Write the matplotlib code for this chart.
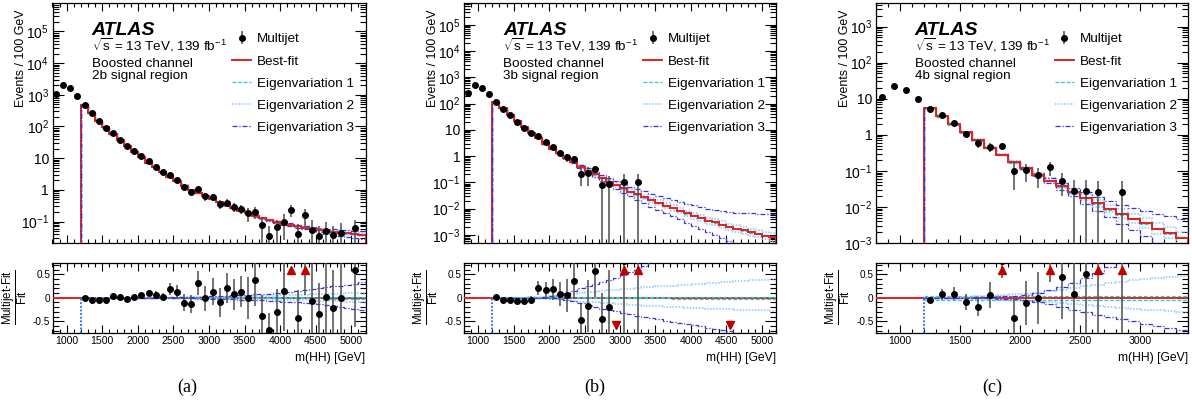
import numpy as np
import matplotlib
matplotlib.use("Agg")
import matplotlib.pyplot as plt
from matplotlib.lines import Line2D
from matplotlib.ticker import LogLocator, MultipleLocator, FuncFormatter, NullFormatter

plt.rcParams['font.family'] = ['Liberation Sans', 'DejaVu Sans']
plt.rcParams['mathtext.fontset'] = 'custom'
plt.rcParams['mathtext.rm'] = 'Liberation Sans'
plt.rcParams['mathtext.it'] = 'Liberation Sans:italic'
plt.rcParams['mathtext.bf'] = 'Liberation Sans:bold'

nan = np.nan

# 100 GeV bins; points below 1200 GeV are not part of the fit
low_centres = [850, 950, 1050, 1150]
edges_ab = np.arange(1200, 5201, 100)
edges_c = np.arange(1200, 3401, 100)

# ---------------- (a) 2b signal region ----------------
low_a = [1070, 1970, 1630, 930]
fit_a = [490, 269, 151, 93, 59, 37, 24.5, 16.2, 10.7, 7.2,
         5.1, 3.55, 2.55, 1.86, 1.36, 1.0, 0.80, 0.64, 0.51, 0.41,
         0.33, 0.27, 0.22, 0.18, 0.15, 0.128, 0.11, 0.096, 0.086, 0.078,
         0.070, 0.064, 0.058, 0.053, 0.049, 0.046, 0.044, 0.042, 0.040, 0.038]
ratio_a = [0.0, -0.04, -0.04, -0.05, 0.04, 0.02, -0.03, 0.01, 0.06, 0.10,
           0.06, 0.02, 0.18, 0.13, -0.11, -0.14, 0.31, -0.01, 0.13, -0.10,
           0.20, 0.07, 0.13, 0.0, 0.38, -0.39, -0.68, -0.31, 0.15, 2.0,
           -0.43, 1.5, -0.06, -0.34, 0.02, -0.21, -0.01, nan, 0.58, nan]
ratio_err_a = [0.01, 0.015, 0.015, 0.02, 0.02, 0.03, 0.03, 0.035, 0.05, 0.07,
               0.08, 0.08, 0.13, 0.15, 0.18, 0.19, 0.25, 0.27, 0.28, 0.30,
               0.32, 0.33, 0.33, 0.45, 0.55, 0.45, 0.35, 0.5, 0.85, 1.2,
               0.6, 1.44, 1.0, 0.66, 1.0, 0.79, 1.0, nan, 1.2, nan]
eig1_up_a = [0.005, 0.005, 0.005, 0.005, 0.005, 0.005, 0.005, 0.005, 0.005, 0.005,
             0.005, 0.005, 0.005, 0.005, 0.005, 0.01, 0.01, 0.01, 0.01, 0.01,
             0.01, 0.01, 0.01, 0.01, 0.01, 0.01, 0.015, 0.015, 0.015, 0.015,
             0.015, 0.015, 0.015, 0.015, 0.02, 0.02, 0.02, 0.02, 0.02, 0.02]
eig1_dn_a = [-0.005, -0.005, -0.005, -0.005, -0.005, -0.005, -0.005, -0.005, -0.005, -0.005,
             -0.005, -0.005, -0.005, -0.005, -0.005, -0.01, -0.01, -0.01, -0.01, -0.01,
             -0.01, -0.01, -0.01, -0.01, -0.01, -0.01, -0.015, -0.015, -0.015, -0.015,
             -0.015, -0.015, -0.015, -0.015, -0.02, -0.02, -0.02, -0.02, -0.02, -0.02]
eig2_up_a = [0, 0, 0, 0, 0, 0, 0, 0, 0, 0,
             0, 0.005, 0.005, 0.005, 0.01, 0.01, 0.01, 0.015, 0.015, 0.02,
             0.02, 0.025, 0.025, 0.03, 0.035, 0.035, 0.04, 0.045, 0.05, 0.055,
             0.06, 0.065, 0.07, 0.075, 0.08, 0.085, 0.09, 0.095, 0.10, 0.11]
eig2_dn_a = [0, 0, 0, 0, 0, 0, 0, 0, 0, 0,
             0, -0.005, -0.005, -0.005, -0.01, -0.01, -0.01, -0.01, -0.015, -0.015,
             -0.02, -0.02, -0.02, -0.025, -0.03, -0.03, -0.035, -0.04, -0.04, -0.045,
             -0.05, -0.05, -0.055, -0.06, -0.065, -0.07, -0.075, -0.08, -0.085, -0.09]
eig3_up_a = [0.01, 0.005, 0, 0, 0, 0, 0, 0, 0, 0.005,
             0.005, 0.01, 0.01, 0.015, 0.015, 0.02, 0.02, 0.025, 0.03, 0.035,
             0.04, 0.05, 0.055, 0.06, 0.07, 0.08, 0.09, 0.10, 0.11, 0.13,
             0.14, 0.16, 0.18, 0.20, 0.22, 0.24, 0.26, 0.28, 0.30, 0.33]
eig3_dn_a = [-0.01, -0.005, 0, 0, 0, 0, 0, 0, 0, -0.005,
             -0.005, -0.01, -0.01, -0.01, -0.015, -0.015, -0.02, -0.02, -0.025, -0.03,
             -0.03, -0.035, -0.04, -0.045, -0.05, -0.055, -0.06, -0.07, -0.08, -0.09,
             -0.10, -0.11, -0.12, -0.135, -0.15, -0.17, -0.19, -0.21, -0.235, -0.26]

# ---------------- (b) 3b signal region ----------------
low_b = [257, 490, 400, 224]
fit_b = [117, 66, 37, 21.4, 12.9, 7.8, 4.8, 2.95, 1.9, 1.26,
         0.85, 0.575, 0.40, 0.28, 0.20, 0.145, 0.105, 0.078, 0.059, 0.045,
         0.035, 0.027, 0.0214, 0.017, 0.0132, 0.0105, 0.0083, 0.0066, 0.0054, 0.0044,
         0.0035, 0.0030, 0.0025, 0.0020, 0.0017, 0.0015, 0.00126, 0.0011, 0.00095, 0.00083]
ratio_b = [0.01, -0.04, -0.04, -0.06, -0.06, -0.04, 0.20, 0.16, 0.18, 0.08,
           0.05, 0.35, -0.47, -0.18, 0.56, -0.46, -0.20, -1.0, 0.78, nan,
           2.0, nan, nan, nan, nan, nan, nan, nan, nan, nan,
           nan, nan, nan, -1.0, nan, nan, nan, nan, nan, nan]
ratio_err_b = [0.01, 0.02, 0.025, 0.03, 0.05, 0.07, 0.15, 0.17, 0.22, 0.26,
               0.35, 0.38, 0.35, 0.55, 0.55, 0.56, 0.8, 0.0, 1.78, nan,
               3.0, nan, nan, nan, nan, nan, nan, nan, nan, nan,
               nan, nan, nan, 0.0, nan, nan, nan, nan, nan, nan]
eig1_up_b = [0.01, 0.01, 0.01, 0.01, 0.01, 0.01, 0.01, 0.01, 0.01, 0.01,
             0.015, 0.015, 0.015, 0.015, 0.015, 0.015, 0.015, 0.015, 0.015, 0.015,
             0.015, 0.015, 0.015, 0.015, 0.015, 0.02, 0.02, 0.02, 0.02, 0.02,
             0.02, 0.02, 0.02, 0.02, 0.02, 0.02, 0.02, 0.02, 0.02, 0.02]
eig1_dn_b = [-0.01, -0.01, -0.01, -0.01, -0.01, -0.01, -0.01, -0.01, -0.01, -0.01,
             -0.015, -0.015, -0.015, -0.015, -0.015, -0.015, -0.015, -0.015, -0.015, -0.015,
             -0.015, -0.015, -0.015, -0.015, -0.015, -0.02, -0.02, -0.02, -0.02, -0.02,
             -0.02, -0.02, -0.02, -0.02, -0.02, -0.02, -0.02, -0.02, -0.02, -0.02]
eig2_up_b = [0.0, 0.0, 0.0, 0.0, 0.005, 0.01, 0.015, 0.02, 0.03, 0.05,
             0.07, 0.085, 0.10, 0.115, 0.13, 0.145, 0.16, 0.17, 0.18, 0.195,
             0.21, 0.22, 0.23, 0.24, 0.25, 0.26, 0.27, 0.28, 0.29, 0.30,
             0.31, 0.32, 0.33, 0.34, 0.35, 0.36, 0.37, 0.375, 0.38, 0.39]
eig2_dn_b = [0.0, 0.0, 0.0, 0.0, -0.005, -0.005, -0.01, -0.015, -0.02, -0.035,
             -0.05, -0.065, -0.08, -0.09, -0.10, -0.11, -0.12, -0.13, -0.14, -0.15,
             -0.16, -0.165, -0.17, -0.18, -0.19, -0.195, -0.20, -0.21, -0.22, -0.225,
             -0.23, -0.235, -0.24, -0.245, -0.25, -0.255, -0.26, -0.265, -0.27, -0.28]
eig3_up_b = [0.01, 0.005, 0.0, 0.0, 0.0, 0.0, 0.0, 0.01, 0.03, 0.06,
             0.10, 0.15, 0.20, 0.24, 0.29, 0.33, 0.38, 0.43, 0.48, 0.55,
             0.60, 0.68, 0.76, 0.84, 0.95, 1.04, 1.16, 1.29, 1.45, 1.63,
             1.85, 2.09, 2.39, 2.76, 3.17, 3.68, 4.25, 4.89, 5.61, 6.41]
eig3_dn_b = [-0.01, -0.005, 0.0, 0.0, 0.0, 0.0, 0.0, -0.005, -0.01, -0.02,
             -0.045, -0.07, -0.11, -0.15, -0.19, -0.23, -0.26, -0.29, -0.32, -0.35,
             -0.38, -0.41, -0.44, -0.46, -0.49, -0.51, -0.53, -0.56, -0.58, -0.61,
             -0.64, -0.66, -0.69, -0.71, -0.74, -0.76, -0.78, -0.80, -0.82, -0.84]

# ---------------- (c) 4b signal region ----------------
low_c = [11, 22, 17.8, 10]
fit_c = [5.6, 3.3, 1.95, 1.16, 0.72, 0.44, 0.28, 0.177, 0.117, 0.077,
         0.054, 0.037, 0.026, 0.018, 0.0125, 0.0088, 0.0064, 0.0047, 0.0035, 0.0025,
         0.0019, 0.0014]
ratio_c = [-0.05, 0.07, 0.09, -0.09, -0.19, 0.06, 0.79, -0.43, -0.12, -0.01,
           1.33, 0.44, 0.07, 0.51, 1.04, nan, 3.0, nan, nan, nan,
           nan, nan]
ratio_err_c = [0.06, 0.11, 0.14, 0.18, 0.2, 0.28, 0.36, 0.4, 0.47, 0.55,
               1.0, 0.9, 1.07, 1.51, 2.04, nan, 4.0, nan, nan, nan,
               nan, nan]
eig1_up_c = [0.04, 0.04, 0.04, 0.04, 0.04, 0.04, 0.04, 0.04, 0.04, 0.04,
             0.04, 0.04, 0.04, 0.04, 0.04, 0.04, 0.04, 0.04, 0.04, 0.04,
             0.04, 0.04]
eig1_dn_c = [-0.04, -0.04, -0.04, -0.04, -0.04, -0.04, -0.04, -0.04, -0.04, -0.04,
             -0.04, -0.04, -0.04, -0.04, -0.04, -0.04, -0.04, -0.04, -0.04, -0.04,
             -0.04, -0.04]
eig2_up_c = [0.0, 0.005, 0.01, 0.02, 0.03, 0.04, 0.05, 0.07, 0.09, 0.11,
             0.14, 0.17, 0.21, 0.25, 0.28, 0.31, 0.34, 0.37, 0.40, 0.42,
             0.45, 0.47]
eig2_dn_c = [0.0, -0.005, -0.01, -0.015, -0.02, -0.03, -0.04, -0.05, -0.07, -0.08,
             -0.10, -0.12, -0.14, -0.16, -0.18, -0.20, -0.22, -0.24, -0.26, -0.27,
             -0.29, -0.30]
eig3_up_c = [0.0, 0.0, 0.0, 0.005, 0.01, 0.016, 0.028, 0.042, 0.066, 0.11,
             0.16, 0.23, 0.32, 0.41, 0.53, 0.66, 0.82, 1.02, 1.24, 1.51,
             1.88, 2.39]
eig3_dn_c = [0.0, 0.0, 0.0, 0.0, -0.005, -0.01, -0.02, -0.03, -0.05, -0.08,
             -0.13, -0.19, -0.25, -0.31, -0.37, -0.42, -0.46, -0.50, -0.55, -0.60,
             -0.65, -0.69]

RED = '#e3211c'
ARROW = '#c00000'
EIG_STYLES = [dict(color='#2ccbd0', lw=0.9, ls=(0, (3, 1.5))),
              dict(color='#8cc4ff', lw=1.1, ls=(0, (1, 1))),
              dict(color='#3434d8', lw=0.9, ls=(0, (4, 1.5, 1, 1.5)))]

FIG_W, FIG_H = 1192, 403
fig = plt.figure(figsize=(FIG_W / 100, FIG_H / 100), dpi=100)


def log_label(v, pos):
    e = int(round(np.log10(v)))
    if e == 0:
        return '1'
    if e == 1:
        return '10'
    return r'$10^{%d}$' % e


def draw_panel(left_px, width_px, low_vals, edges, fit, ratio, ratio_err, eigs,
               ylim, region, tag, tag_x):
    left = left_px / FIG_W
    width = width_px / FIG_W
    ax = fig.add_axes([left, 160 / FIG_H, width, 240 / FIG_H])
    rax = fig.add_axes([left, 70 / FIG_H, width, 70.5 / FIG_H])

    fit = np.array(fit, dtype=float)
    ratio = np.array(ratio, dtype=float)
    rerr = np.array(ratio_err, dtype=float)
    centres = 0.5 * (edges[:-1] + edges[1:])
    data = fit * (1 + ratio)
    data_err = fit * rerr

    # ---- main panel ----
    base = ylim[0] * 1e-3
    for (up, dn), st in zip(eigs, EIG_STYLES):
        ax.stairs(fit * (1 + np.array(up)), edges, baseline=base, zorder=3, **st)
        ax.stairs(fit * (1 + np.array(dn)), edges, baseline=base, zorder=3, **st)
    ax.stairs(fit, edges, baseline=base, color=RED, lw=1.4, zorder=4)
    # dashed blue over the red edge at the start of the fit range
    ax.vlines(edges[0], base, fit[0], zorder=5, **EIG_STYLES[2])

    ok = np.isfinite(data) & (data > 0)
    xs = np.concatenate([low_centres, centres[ok]])
    ys = np.concatenate([low_vals, data[ok]])
    es = np.concatenate([np.zeros(len(low_vals)), data_err[ok]])
    eb = ax.errorbar(xs, ys, yerr=es, fmt='o', ms=4, color='black', ecolor='0.3',
                     elinewidth=1.1, capsize=0, zorder=6)

    ax.set_yscale('log')
    ax.set_ylim(*ylim)
    ax.set_xlim(800, edges[-1])

    handles = [eb, Line2D([], [], color=RED, lw=1.4)] + \
              [Line2D([], [], **st) for st in EIG_STYLES]
    labels = ['Multijet', 'Best-fit', 'Eigenvariation 1', 'Eigenvariation 2',
              'Eigenvariation 3']
    ax.legend(handles, labels, loc='upper left', bbox_to_anchor=(0.573, 0.875),
              frameon=False, fontsize=9.7, handlelength=1.45, handletextpad=0.4,
              labelspacing=0.72, borderpad=0, borderaxespad=0)

    ax.text(0.125, 0.868, 'ATLAS', transform=ax.transAxes, fontsize=14,
            fontweight='bold', fontstyle='italic', va='baseline')
    ax.text(0.125, 0.801, r'$\sqrt{\mathrm{s}}$ = 13 TeV, 139 fb$^{\mathrm{-1}}$',
            transform=ax.transAxes, fontsize=9.7, va='baseline')
    ax.text(0.125, 0.735, 'Boosted channel', transform=ax.transAxes,
            fontsize=9.7, va='baseline')
    ax.text(0.125, 0.684, region, transform=ax.transAxes, fontsize=9.7,
            va='baseline')
    ax.text(-31 / width_px, 0.972, 'Events / 100 GeV', transform=ax.transAxes,
            rotation=90, ha='center', va='top', fontsize=8.9)

    # ---- ratio panel ----
    rlim = 0.75
    rax.axhline(0, color=RED, lw=1.4, zorder=3)
    for (up, dn), st in zip(eigs, EIG_STYLES):
        rax.stairs(up, edges, baseline=None, zorder=4, **st)
        rax.stairs(dn, edges, baseline=None, zorder=4, **st)
    rax.vlines(edges[0], -rlim, 0, color='#1f63ff', lw=1.3, ls=(0, (1, 1)), zorder=4)

    m = np.isfinite(ratio)
    rax.errorbar(centres[m], ratio[m], yerr=rerr[m], fmt='o', ms=4, color='black',
                 ecolor='0.3', elinewidth=1.1, capsize=0, zorder=6)
    hi = m & (ratio > rlim)
    lo = m & (ratio < -rlim)
    rax.plot(centres[hi], np.full(hi.sum(), 0.78 * rlim), '^', color=ARROW, ms=5.5,
             zorder=7, clip_on=False)
    rax.plot(centres[lo], np.full(lo.sum(), -0.78 * rlim), 'v', color=ARROW, ms=5.5,
             zorder=7, clip_on=False)
    rax.set_ylim(-rlim, rlim)
    rax.set_xlim(800, edges[-1])

    # fraction label as one text
    rax.text(-38 / width_px, 0.5,
             r'$\dfrac{\mathrm{Multijet\text{-}Fit}}{\mathrm{Fit}}$',
             transform=rax.transAxes, rotation=90, ha='center', va='center',
             fontsize=8.3)
    rax.text(1.0, -0.36, 'm(HH) [GeV]', transform=rax.transAxes, ha='right',
             va='center', fontsize=8.7)

    # ---- ticks ----
    for a in (ax, rax):
        a.xaxis.set_major_locator(MultipleLocator(500))
        a.xaxis.set_minor_locator(MultipleLocator(100))
        a.tick_params(which='both', direction='in', top=True, right=True, width=0.8)
        a.tick_params(axis='x', which='major', length=6)
        a.tick_params(axis='x', which='minor', length=3)
        a.tick_params(axis='y', which='major', length=8)
        a.tick_params(axis='y', which='minor', length=4)
        for s in a.spines.values():
            s.set_linewidth(0.9)
    ax.yaxis.set_major_locator(LogLocator(base=10, numticks=20))
    ax.yaxis.set_minor_locator(LogLocator(base=10, subs=np.arange(2, 10), numticks=20))
    ax.yaxis.set_major_formatter(FuncFormatter(log_label))
    ax.yaxis.set_minor_formatter(NullFormatter())
    ax.tick_params(axis='x', labelbottom=False)
    ax.tick_params(axis='y', labelsize=10, pad=2.5)

    rax.yaxis.set_major_locator(MultipleLocator(0.5))
    rax.yaxis.set_minor_locator(MultipleLocator(0.1))
    rax.yaxis.set_major_formatter(FuncFormatter(lambda v, p: '%g' % v))
    rax.tick_params(axis='x', labelsize=7.6, pad=2.5)
    rax.tick_params(axis='y', labelsize=7.2, pad=1.5)

    fig.text(tag_x / FIG_W, 1 - 387 / FIG_H, tag, ha='center', va='center',
             family='Liberation Serif', fontsize=13)


draw_panel(52.5, 313, low_a, edges_ab, fit_a, ratio_a, ratio_err_a,
           [(eig1_up_a, eig1_dn_a), (eig2_up_a, eig2_dn_a), (eig3_up_a, eig3_dn_a)],
           (0.021, 7.9e5), '2b signal region', '(a)', 187)
draw_panel(464, 312, low_b, edges_ab, fit_b, ratio_b, ratio_err_b,
           [(eig1_up_b, eig1_dn_b), (eig2_up_b, eig2_dn_b), (eig3_up_b, eig3_dn_b)],
           (4.95e-4, 6.7e5), '3b signal region', '(b)', 595)
draw_panel(875.7, 312.3, low_c, edges_c, fit_c, ratio_c, ratio_err_c,
           [(eig1_up_c, eig1_dn_c), (eig2_up_c, eig2_dn_c), (eig3_up_c, eig3_dn_c)],
           (1e-3, 4.5e3), '4b signal region', '(c)', 992)

fig.savefig('out.png', dpi=100)
